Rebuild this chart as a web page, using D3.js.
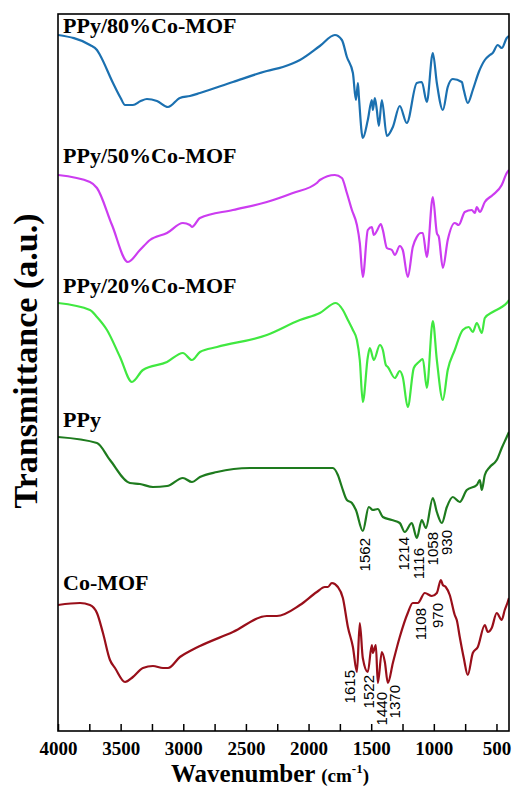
<!DOCTYPE html>
<html>
<head>
<meta charset="utf-8">
<script src="https://cdn.jsdelivr.net/npm/d3@7"></script>
<style>
  body { margin: 0; background: #fff; }
</style>
</head>
<body>
<div id="chart"></div>
<script>
/* FTIR spectra: Co-MOF, PPy and PPy/Co-MOF composites */

// wavenumber (cm-1) and transmittance (a.u., stacked) per sample
const wn80 = [4000,3745,3689,3665,3561,3500,3465,3402,3340,3290,3210,3122,3027,2947,2867,2604,2333,2205,2069,1910,1790,1734,1694,1646,1622,1606,1598,1567,1527,1495,1487,1471,1455,1439,1415,1375,1327,1272,1216,1136,1096,1056,1008,976,928,889,849,777,761,729,689,641,593,553,530,490,458,418,400];
const t80 = [696,686,681,676,648,633,626,626,630,632,630,624,633,635,638,649,660,664,671,685,696,691,674,658,631,648,634,593,611,631,621,633,621,605,631,595,604,625,608,648,649,629,678,648,621,644,652,649,641,628,641,659,671,676,678,686,683,693,695];

const wn50 = [4000,3745,3689,3569,3442,3346,3266,3130,3003,2947,2931,2867,2604,2333,2125,1934,1910,1790,1734,1694,1654,1614,1591,1567,1527,1495,1479,1455,1423,1407,1375,1335,1311,1272,1248,1208,1168,1136,1104,1088,1056,1008,976,960,928,889,833,801,753,697,673,657,633,593,530,458,418,400];
const t50 = [556,549,543,506,469,481,491,498,508,506,504,513,521,529,538,548,551,556,553,538,521,506,488,454,501,504,496,500,507,501,483,481,476,485,481,454,484,494,498,498,474,534,498,494,463,491,508,506,519,521,518,524,519,529,536,546,558,561];

const wn20 = [4000,3745,3689,3609,3505,3410,3322,3130,3003,2931,2867,2731,2333,2069,1910,1782,1726,1686,1646,1614,1591,1567,1527,1511,1479,1431,1407,1383,1367,1311,1272,1248,1208,1160,1120,1088,1056,1008,976,928,889,833,769,721,689,657,617,593,530,458,418,400];
const t20 = [428,421,414,401,374,349,361,369,378,371,379,384,396,411,418,428,421,411,401,391,371,329,374,383,371,386,381,366,364,353,360,354,324,363,369,372,343,410,371,331,361,381,401,404,399,408,398,413,419,424,428,431];

const wnPPy = [4000,3689,3585,3426,3346,3242,3130,3003,2931,2867,2731,2468,1806,1766,1734,1694,1654,1622,1567,1519,1487,1447,1407,1335,1272,1232,1176,1136,1096,1064,1008,976,936,896,849,793,737,657,633,617,593,553,498,458,418,400];
const tPPy = [294,288,271,248,247,244,245,253,249,254,259,263,263,256,244,231,228,221,200,224,221,222,214,211,208,199,208,193,211,203,233,219,208,224,234,229,241,246,251,241,256,264,271,283,294,299];

const wnMOF = [4000,3824,3745,3689,3641,3585,3545,3465,3402,3322,3242,3162,3122,3027,2931,2867,2604,2333,2253,2069,1934,1870,1846,1814,1766,1726,1686,1646,1614,1591,1567,1527,1495,1487,1463,1447,1415,1391,1367,1327,1272,1208,1168,1128,1072,1016,976,944,928,905,873,833,817,793,761,729,689,649,593,569,538,498,458,434,410,400];
const tMOF = [126,128,126,118,98,71,63,49,54,63,65,63,63,74,81,85,99,115,115,126,139,144,144,148,144,133,104,84,59,108,73,59,86,78,86,48,79,69,48,68,94,118,128,128,138,135,138,151,146,144,136,116,111,94,73,56,78,84,106,99,103,118,111,121,129,133];

const names = ["PPy/80%Co-MOF", "PPy/50%Co-MOF", "PPy/20%Co-MOF", "PPy", "Co-MOF"];
const nameLevel = [698, 568, 438, 304, 141];   // a.u. level of each name label
const colors = ["#1b70b0", "#cc3cf0", "#40e840", "#1e7b1e", "#990f1a"];

// peak annotations
const ppyPeaks = ["1562", "1214", "1116", "1058", "930"];
const ppyPeakW = [1551, 1240, 1120, 1008, 897];
const ppyPeakT = [193, 194, 183, 199, 201];
const mofPeaks = ["1615", "1522", "1440", "1370", "1108", "970"];
const mofPeakW = [1670, 1519, 1415, 1311, 1104, 968];
const mofPeakT = [61, 56, 39, 46, 123, 128];

const xMajor = [4000, 3500, 3000, 2500, 2000, 1500, 1000, 500];
const xMinor = [3750, 3250, 2750, 2250, 1750, 1250, 750];

const width = 512, height = 787,
  margin = ({ top: 14, right: 3, bottom: 56, left: 58 });

const serif = "'Liberation Serif', 'Times New Roman', serif";
const sans = "'Liberation Sans', Arial, sans-serif";

let svg = d3.select("#chart")
  .append("svg")
  .attr("width", width)
  .attr("height", height);

let x = d3.scaleLinear()
  .domain([4000, 400])
  .range([margin.left, width - margin.right]);

let y = d3.scaleLinear()
  .domain([0, 717])
  .range([height - margin.bottom, margin.top]);

svg.append("clipPath").attr("id", "clip")
  .append("rect")
  .attr("x", margin.left).attr("y", margin.top)
  .attr("width", width - margin.right - margin.left)
  .attr("height", height - margin.bottom - margin.top);

/* spectra */
const series = [[wn80, t80], [wn50, t50], [wn20, t20], [wnPPy, tPPy], [wnMOF, tMOF]]
  .map(([w, t], i) => ({ name: names[i], color: colors[i], pts: w.map((d, j) => [d, t[j]]) }));

let line = d3.line()
  .x(d => x(d[0]))
  .y(d => y(d[1]))
  .curve(d3.curveMonotoneX);

svg.append("g")
  .attr("clip-path", "url(#clip)")
  .selectAll("path")
  .data(series)
  .join("path")
  .attr("fill", "none")
  .attr("stroke", d => d.color)
  .attr("stroke-width", 2.2)
  .attr("stroke-linejoin", "round")
  .attr("d", d => line(d.pts));

/* sample names */
svg.append("g")
  .selectAll("text")
  .data(names)
  .join("text")
  .attr("x", x(3960))
  .attr("y", (d, i) => y(nameLevel[i]))
  .style("font-family", serif)
  .style("font-weight", "bold")
  .style("font-size", "22px")
  .text(d => d);

/* peak labels, rotated */
const peaks = ppyPeaks.map((p, i) => ({ p, w: ppyPeakW[i], t: ppyPeakT[i] }))
  .concat(mofPeaks.map((p, i) => ({ p, w: mofPeakW[i], t: mofPeakT[i] })));

svg.append("g")
  .selectAll("text")
  .data(peaks)
  .join("text")
  .attr("transform", d => `translate(${x(d.w)},${y(d.t)}) rotate(-90)`)
  .attr("text-anchor", "end")
  .attr("dy", "0.36em")
  .style("font-family", sans)
  .style("font-size", "15px")
  .text(d => d.p);

/* axes */
let axis = svg.append("g")
  .attr("transform", `translate(0,${height - margin.bottom})`)
  .call(d3.axisBottom(x).tickValues(xMajor).tickSize(-7).tickPadding(10.5)
    .tickFormat(d3.format("d")));

axis.append("g")
  .call(d3.axisBottom(x).tickValues(xMinor).tickSize(-7).tickFormat(""));

axis.selectAll(".domain").remove();
axis.selectAll("line").attr("stroke", "#000").attr("stroke-width", 1.5);
axis.selectAll("text")
  .style("font-family", serif)
  .style("font-weight", "bold")
  .style("font-size", "19px")
  .attr("fill", "#000");

/* frame */
svg.append("rect")
  .attr("x", margin.left)
  .attr("y", margin.top)
  .attr("width", width - margin.right - margin.left)
  .attr("height", height - margin.bottom - margin.top)
  .attr("fill", "none")
  .attr("stroke", "#000")
  .attr("stroke-width", 1.6);

/* axis titles */
let xt = svg.append("text")
  .attr("x", 270)
  .attr("y", 781.5)
  .attr("text-anchor", "middle")
  .style("font-family", serif)
  .style("font-weight", "bold");
xt.append("tspan").style("font-size", "25px").text("Wavenumber ");
xt.append("tspan").style("font-size", "19px").text("(cm");
xt.append("tspan").style("font-size", "13px").attr("dy", -9).text("-1");
xt.append("tspan").style("font-size", "19px").attr("dy", 9).text(")");

svg.append("text")
  .attr("transform", "translate(37,361) rotate(-90)")
  .attr("text-anchor", "middle")
  .style("font-family", serif)
  .style("font-weight", "bold")
  .style("font-size", "34px")
  .text("Transmittance (a.u.)");
</script>
</body>
</html>
